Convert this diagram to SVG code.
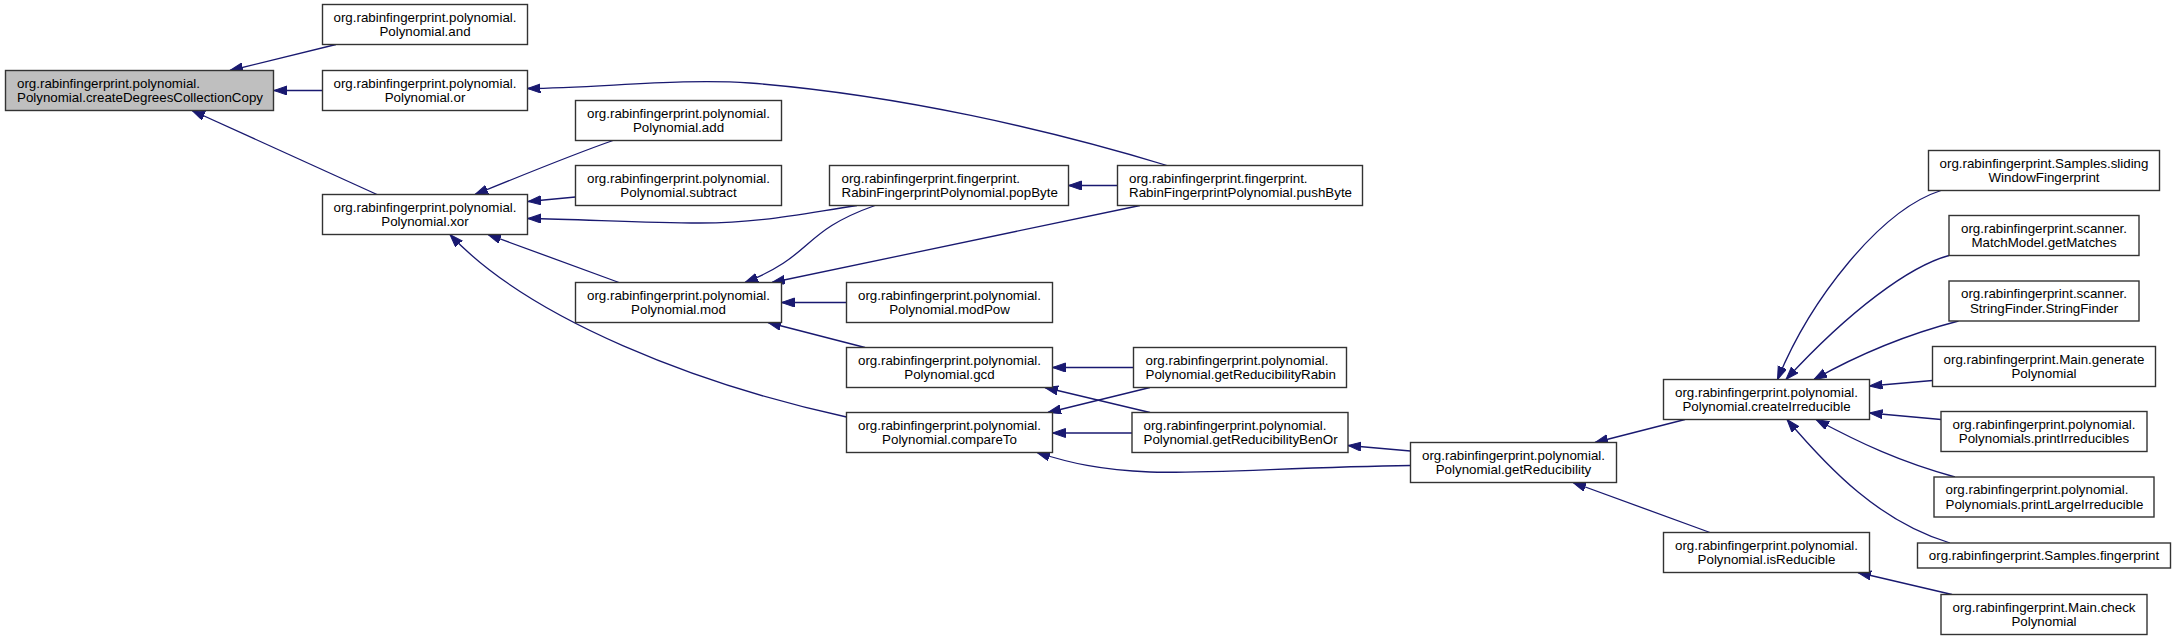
<svg xmlns="http://www.w3.org/2000/svg" width="2176" height="640" viewBox="0 0 2176 640">
<style>
.n rect{fill:#fff;stroke:#333;stroke-width:1.4}
.hl rect{fill:#bfbfbf}
text{font-family:"Liberation Sans",Arial,Helvetica,sans-serif;font-size:13.33px;fill:#000}
.c text{text-anchor:middle}
.e path{fill:none;stroke:#191970;stroke-width:1.3;marker-end:url(#ah)}
</style>
<defs>
<marker id="ah" markerUnits="userSpaceOnUse" markerWidth="14" markerHeight="10" refX="13" refY="4.5" orient="auto">
<path d="M0,0 L13,4.5 L0,9 z" fill="#191970" stroke="#191970" stroke-width="1"/>
</marker>
</defs>
<rect width="2176" height="640" fill="#fff"/>
<g class="e" id="edges">
<path d="M336 44.5 L230 70.5"/>
<path d="M322.5 90.5 L274 90.5"/>
<path d="M377 194.5 L192 110.5"/>
<path d="M613 140.5 C580 152 530 172 475 194.5"/>
<path d="M575.5 197 L528 201.5"/>
<path d="M857 205.5 C800 214 760 223 700 223 C640 223 580 219 528 218.5"/>
<path d="M619 282.5 L488 234.5"/>
<path d="M846.5 417 C700 385 530 320 450 234.5"/>
<path d="M875 205.5 C800 232 815 255 745 282.5"/>
<path d="M1140 205.5 L772 282.5"/>
<path d="M846.5 302.5 L781.5 302.5"/>
<path d="M865 347.5 L768 322.5"/>
<path d="M1167 165.5 C1050 130 900 95 750 83 C680 78 600 88 527.5 88.5"/>
<path d="M1117.5 185.5 L1068.5 185.5"/>
<path d="M1133.5 367.5 L1052.5 367.5"/>
<path d="M1150 387.5 L1048 412.5"/>
<path d="M1150 412.5 L1045 387.5"/>
<path d="M1132 433 L1052.5 433"/>
<path d="M1410.5 465.5 C1300 467 1200 474 1150 472 C1100 470 1070 463 1037 452.5"/>
<path d="M1410.5 451 L1348 445.5"/>
<path d="M1685 419.5 L1595 442.5"/>
<path d="M1710 532.5 L1573 482.5"/>
<path d="M1941 190.5 C1880 210 1810 300 1777.5 379.5"/>
<path d="M1949 255.5 C1910 266 1850 310 1786 379.5"/>
<path d="M1958.5 321 C1920 331 1870 348 1814 379.5"/>
<path d="M1932.5 380.5 L1869.5 386"/>
<path d="M1941 419.5 L1869.5 413"/>
<path d="M1955 477 C1900 462 1860 443 1816 419.5"/>
<path d="M1950 543 C1880 522 1830 470 1787 419.5"/>
<path d="M1952 594.5 L1858 572.5"/>
</g>
<g id="createDegreesCollectionCopy" class="n hl"><rect x="5.5" y="70.5" width="268" height="40"/><text x="17" y="87.5">org.rabinfingerprint.polynomial.</text><text x="17" y="102">Polynomial.createDegreesCollectionCopy</text></g>
<g id="and" class="n c"><rect x="322.5" y="4.5" width="205" height="40"/><text x="425" y="21.5">org.rabinfingerprint.polynomial.</text><text x="425" y="36">Polynomial.and</text></g>
<g id="or" class="n c"><rect x="322.5" y="70.5" width="205" height="40"/><text x="425" y="87.5">org.rabinfingerprint.polynomial.</text><text x="425" y="102">Polynomial.or</text></g>
<g id="xor" class="n c"><rect x="322.5" y="194.5" width="205" height="40"/><text x="425" y="211.5">org.rabinfingerprint.polynomial.</text><text x="425" y="226">Polynomial.xor</text></g>
<g id="add" class="n c"><rect x="575.5" y="100.5" width="206" height="40"/><text x="678.5" y="117.5">org.rabinfingerprint.polynomial.</text><text x="678.5" y="132">Polynomial.add</text></g>
<g id="subtract" class="n c"><rect x="575.5" y="165.5" width="206" height="40"/><text x="678.5" y="182.5">org.rabinfingerprint.polynomial.</text><text x="678.5" y="197">Polynomial.subtract</text></g>
<g id="mod" class="n c"><rect x="575.5" y="282.5" width="206" height="40"/><text x="678.5" y="299.5">org.rabinfingerprint.polynomial.</text><text x="678.5" y="314">Polynomial.mod</text></g>
<g id="popByte" class="n"><rect x="829.5" y="165.5" width="239" height="40"/><text x="841.5" y="182.5">org.rabinfingerprint.fingerprint.</text><text x="841.5" y="197">RabinFingerprintPolynomial.popByte</text></g>
<g id="modPow" class="n c"><rect x="846.5" y="282.5" width="206" height="40"/><text x="949.5" y="299.5">org.rabinfingerprint.polynomial.</text><text x="949.5" y="314">Polynomial.modPow</text></g>
<g id="gcd" class="n c"><rect x="846.5" y="347.5" width="206" height="40"/><text x="949.5" y="364.5">org.rabinfingerprint.polynomial.</text><text x="949.5" y="379">Polynomial.gcd</text></g>
<g id="compareTo" class="n c"><rect x="846.5" y="412.5" width="206" height="40"/><text x="949.5" y="429.5">org.rabinfingerprint.polynomial.</text><text x="949.5" y="444">Polynomial.compareTo</text></g>
<g id="pushByte" class="n"><rect x="1117.5" y="165.5" width="245" height="40"/><text x="1129" y="182.5">org.rabinfingerprint.fingerprint.</text><text x="1129" y="197">RabinFingerprintPolynomial.pushByte</text></g>
<g id="getReducibilityRabin" class="n"><rect x="1133.5" y="347.5" width="213" height="40"/><text x="1145.5" y="364.5">org.rabinfingerprint.polynomial.</text><text x="1145.5" y="379">Polynomial.getReducibilityRabin</text></g>
<g id="getReducibilityBenOr" class="n"><rect x="1132" y="412.5" width="216" height="40"/><text x="1143.5" y="429.5">org.rabinfingerprint.polynomial.</text><text x="1143.5" y="444">Polynomial.getReducibilityBenOr</text></g>
<g id="getReducibility" class="n c"><rect x="1410.5" y="442.5" width="206" height="40"/><text x="1513.5" y="459.5">org.rabinfingerprint.polynomial.</text><text x="1513.5" y="474">Polynomial.getReducibility</text></g>
<g id="createIrreducible" class="n c"><rect x="1663.5" y="379.5" width="206" height="40"/><text x="1766.5" y="396.5">org.rabinfingerprint.polynomial.</text><text x="1766.5" y="411">Polynomial.createIrreducible</text></g>
<g id="isReducible" class="n c"><rect x="1663.5" y="532.5" width="206" height="40"/><text x="1766.5" y="549.5">org.rabinfingerprint.polynomial.</text><text x="1766.5" y="564">Polynomial.isReducible</text></g>
<g id="slidingWindowFingerprint" class="n c"><rect x="1928.5" y="150.5" width="231" height="40"/><text x="2044" y="167.5">org.rabinfingerprint.Samples.sliding</text><text x="2044" y="182">WindowFingerprint</text></g>
<g id="getMatches" class="n c"><rect x="1949" y="215.5" width="190" height="40"/><text x="2044" y="232.5">org.rabinfingerprint.scanner.</text><text x="2044" y="247">MatchModel.getMatches</text></g>
<g id="StringFinder" class="n c"><rect x="1949" y="281" width="190" height="40"/><text x="2044" y="298">org.rabinfingerprint.scanner.</text><text x="2044" y="312.5">StringFinder.StringFinder</text></g>
<g id="generatePolynomial" class="n c"><rect x="1932.5" y="346.5" width="223" height="40"/><text x="2044" y="363.5">org.rabinfingerprint.Main.generate</text><text x="2044" y="378">Polynomial</text></g>
<g id="printIrreducibles" class="n c"><rect x="1941" y="411.5" width="206" height="40"/><text x="2044" y="428.5">org.rabinfingerprint.polynomial.</text><text x="2044" y="443">Polynomials.printIrreducibles</text></g>
<g id="printLargeIrreducible" class="n"><rect x="1934" y="477" width="220" height="40"/><text x="1945.5" y="494">org.rabinfingerprint.polynomial.</text><text x="1945.5" y="508.5">Polynomials.printLargeIrreducible</text></g>
<g id="fingerprint" class="n c"><rect x="1917.5" y="543" width="253" height="25"/><text x="2044" y="560">org.rabinfingerprint.Samples.fingerprint</text></g>
<g id="checkPolynomial" class="n c"><rect x="1941" y="594.5" width="206" height="40"/><text x="2044" y="611.5">org.rabinfingerprint.Main.check</text><text x="2044" y="626">Polynomial</text></g>
</svg>
